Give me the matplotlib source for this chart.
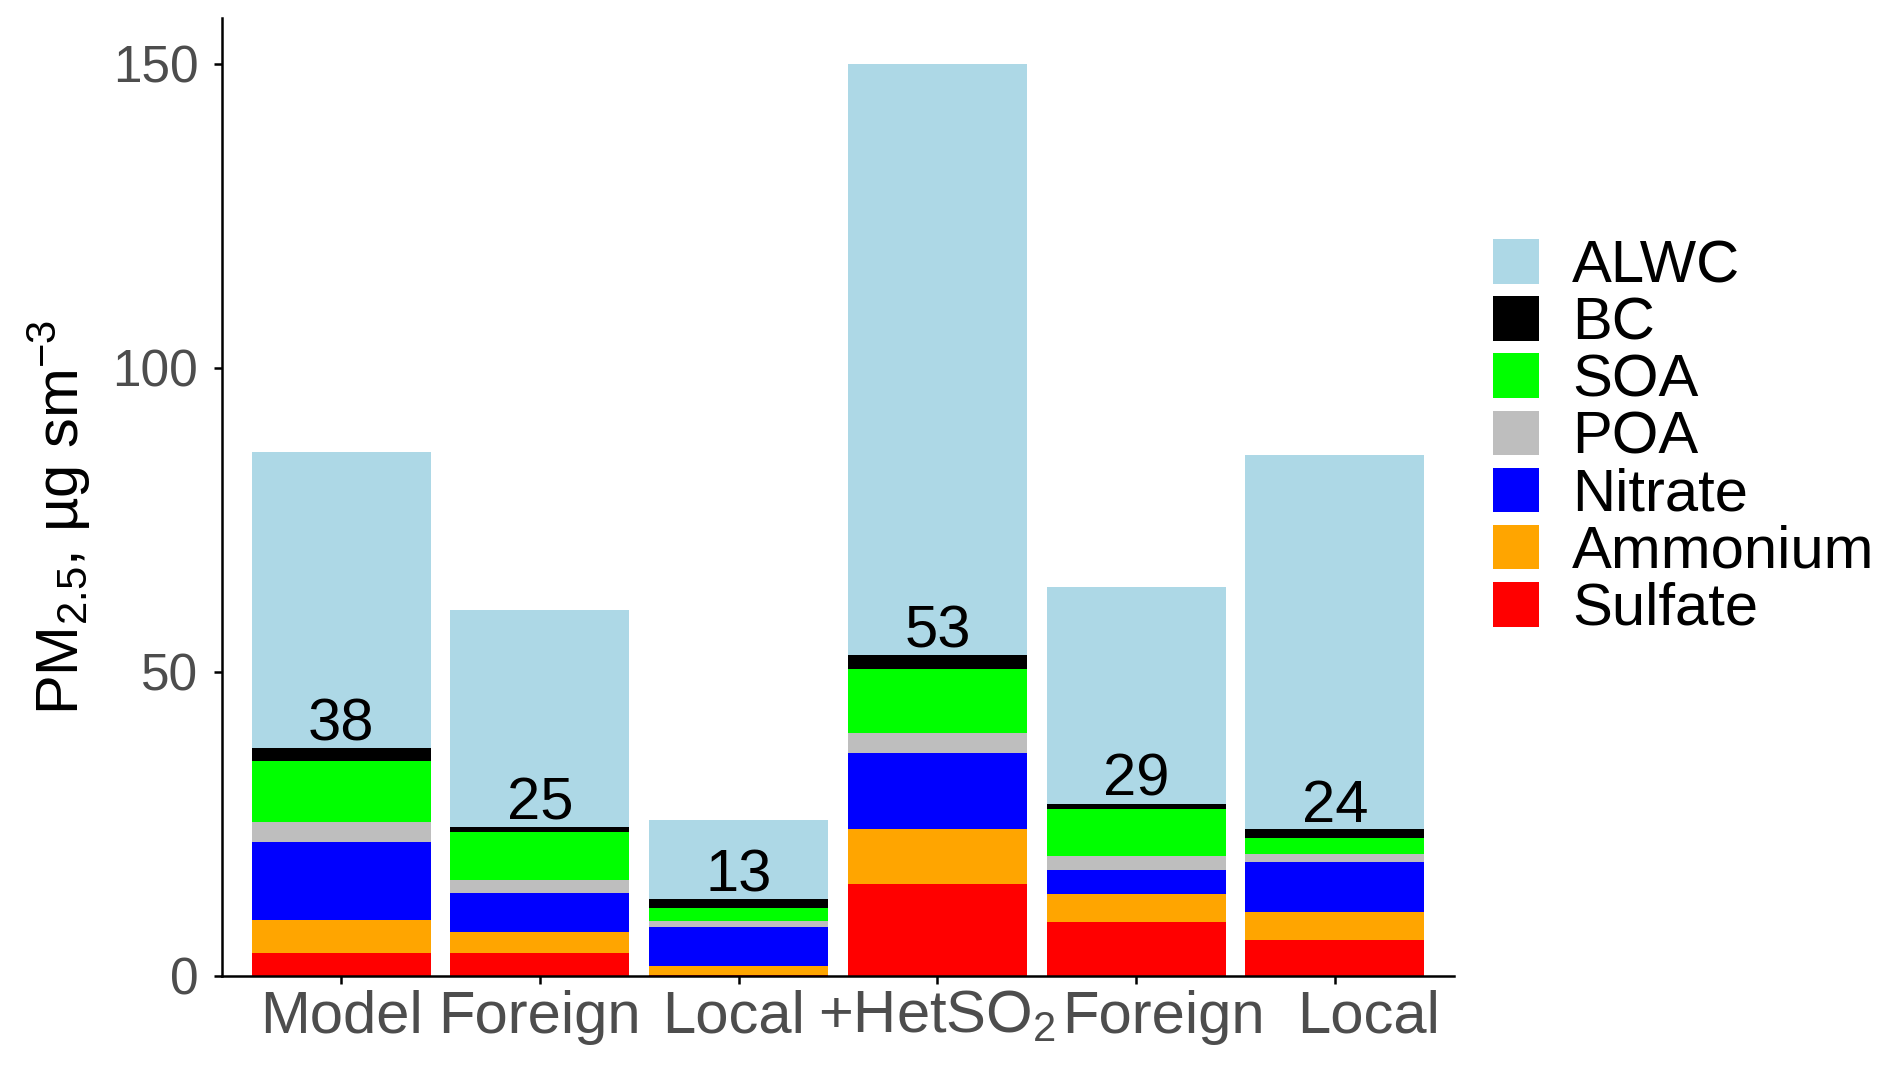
import matplotlib
matplotlib.use("Agg")
from matplotlib import pyplot as plt
from matplotlib.patches import Patch
import numpy as np

# Data (µg m-3)
scenarios = ["Model", "Foreign", "Local", "+HetSO$_2$", "Foreign", "Local"]
sulfate  = [3.8, 3.7, 0.1, 15.1, 8.9, 5.9]
ammonium = [5.4, 3.5, 1.6, 9.1, 4.5, 4.7]
nitrate  = [12.8, 6.4, 6.3, 12.4, 4.0, 8.2]
poa      = [3.3, 2.2, 1.1, 3.4, 2.3, 1.3]
soa      = [10.0, 7.9, 2.1, 10.5, 7.8, 2.6]
bc       = [2.2, 0.8, 1.4, 2.2, 0.8, 1.4]
alwc     = [48.6, 35.6, 13.0, 97.3, 35.7, 61.6]
dry_labels = ["38", "25", "13", "53", "29", "24"]

species = ["Sulfate", "Ammonium", "Nitrate", "POA", "SOA", "BC", "ALWC"]
colors = ["#FF0000", "#FFA500", "#0000FF", "#BEBEBE", "#00FF00", "#000000", "#ADD8E6"]
series = [sulfate, ammonium, nitrate, poa, soa, bc, alwc]

plt.rcParams['font.family'] = ['Liberation Sans', 'DejaVu Sans']
plt.rcParams['mathtext.fontset'] = 'custom'
plt.rcParams['mathtext.rm'] = 'Liberation Sans'
plt.rcParams['mathtext.it'] = 'Liberation Sans:italic'
plt.rcParams['mathtext.default'] = 'regular'

fig = plt.figure(figsize=(18.84, 10.67), dpi=100)
ax = fig.add_axes([0.1178, 0.0853, 0.654, 0.8977])

x = np.arange(1, len(scenarios) + 1)
bottom = np.zeros(len(x))
for vals, col in zip(series, colors):
    ax.bar(x, vals, width=0.9, bottom=bottom, color=col, linewidth=0)
    bottom = bottom + np.array(vals)

# labels for the dry total (everything except ALWC)
dry_total = np.sum(series[:-1], axis=0)
for xi, top, lab in zip(x, dry_total, dry_labels):
    ax.text(xi, top + 1.3, lab, ha='center', va='baseline', fontsize=43, color='black')

ax.set_xlim(0.4, 6.6)
ax.set_ylim(0, 157.5)
ax.set_yticks([0, 50, 100, 150])
ax.set_xticks(x)
ax.set_xticklabels([])
ax.set_ylabel("PM$_{2.5}$, µg sm$^{-3}$", fontsize=43)
ax.yaxis.set_label_coords(-0.105, 0.479)

# category labels; in the original some sit a little off their ticks
shifts_pt = [0, 0, -4, 0, 20, 24]
for xi, name, dx in zip(x, scenarios, shifts_pt):
    ax.annotate(name, xy=(xi, 0), xycoords=('data', 'axes fraction'),
                xytext=(dx, -10), textcoords='offset points',
                ha='center', va='top', fontsize=43, color='#4D4D4D')

for s in ['top', 'right']:
    ax.spines[s].set_visible(False)
for s in ['left', 'bottom']:
    ax.spines[s].set_linewidth(1.8)
ax.tick_params(axis='both', length=6, width=1.8, color='black')
ax.tick_params(axis='y', labelsize=37, labelcolor='#4D4D4D', pad=11)

handles = [Patch(facecolor=c, edgecolor='none') for c in colors[::-1]]
fig.legend(handles, species[::-1], loc='upper left', bbox_to_anchor=(0.7796, 0.798),
           frameon=False, fontsize=43, handlelength=0.78, handleheight=0.78,
           labelspacing=0.03, handletextpad=0.55, borderaxespad=0)

fig.savefig("out.png", dpi=100)
